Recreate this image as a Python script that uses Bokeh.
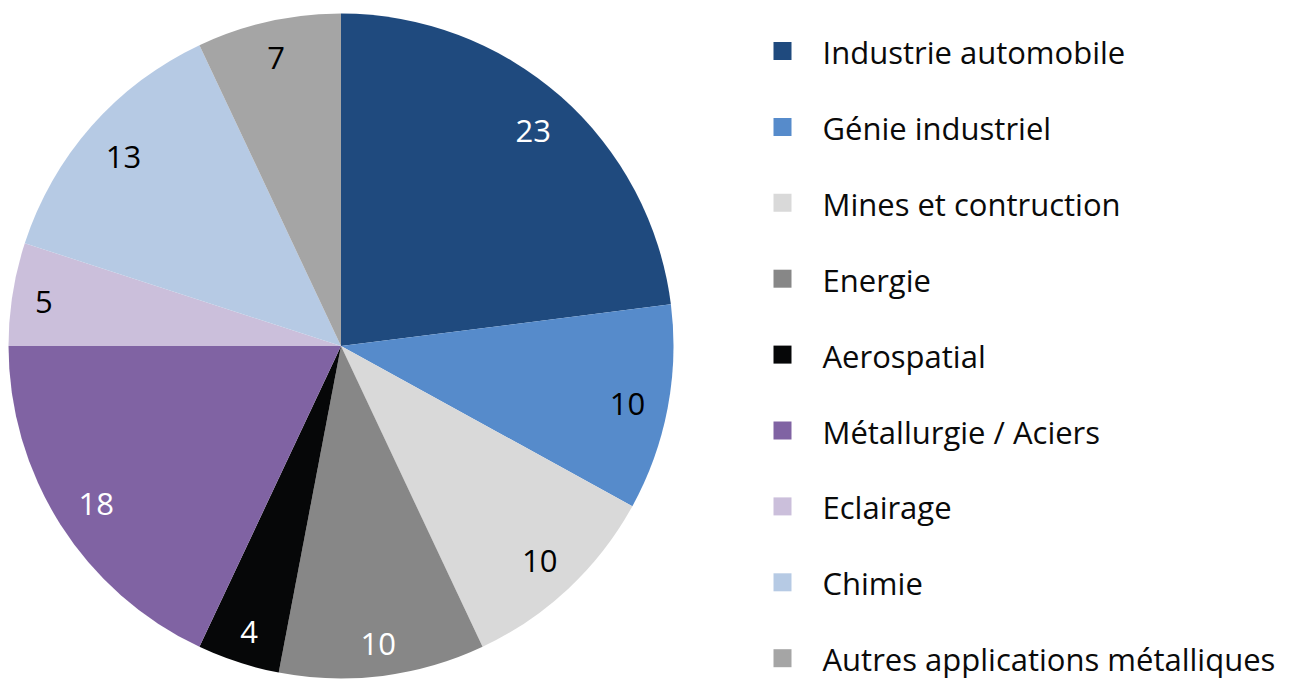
import math
from bokeh.plotting import figure
from bokeh.models import Range1d, ColumnDataSource
from bokeh.core.properties import value
from bokeh.embed import file_html
from bokeh.resources import INLINE

categories = ["Industrie automobile", "Génie industriel", "Mines et contruction",
              "Energie", "Aerospatial", "Métallurgie / Aciers", "Eclairage",
              "Chimie", "Autres applications métalliques"]
values = [23, 10, 10, 10, 4, 18, 5, 13, 7]
colors = ["#1f4a7e", "#568bcb", "#d9d9d9", "#878787", "#060708",
          "#8063a3", "#cbbfdb", "#b6cae4", "#a5a5a5"]
label_colors = ["white", "black", "black", "white", "white",
                "white", "black", "black", "black"]

W, H = 1290, 681
p = figure(width=W, height=H, output_backend="svg", toolbar_location=None,
           x_range=Range1d(0, W), y_range=Range1d(0, H), min_border=0)
p.axis.visible = False
p.grid.visible = False
p.outline_line_color = None
p.background_fill_color = "white"
p.border_fill_color = "white"

# centre/radius in the figure's pixel frame
cx, cy, R = 340.5, H - 345.5, 332.5
total = sum(values)
starts, ends, lx, ly, txt = [], [], [], [], []
cum = 0.0
pad, half_h, digit_w, drop = 21, 12, 9, 3
for v in values:
    a0 = math.pi / 2 - 2 * math.pi * (cum + v) / total
    a1 = math.pi / 2 - 2 * math.pi * cum / total
    starts.append(a0)
    ends.append(a1)
    mid = (a0 + a1) / 2
    s = str(v)
    txt.append(s)
    half_w = digit_w * len(s)
    # "inside end" placement: label box kept a fixed padding inside the rim
    support = half_w * abs(math.cos(mid)) + half_h * abs(math.sin(mid))
    d = R - pad - support
    lx.append(cx + d * math.cos(mid))
    ly.append(cy + d * math.sin(mid) - drop)
    cum += v

src = ColumnDataSource(dict(start=starts, end=ends, color=colors,
                            lx=lx, ly=ly, txt=txt, tc=label_colors))
p.wedge(x=cx, y=cy, radius=R, start_angle="start", end_angle="end",
        fill_color="color", line_color=None, source=src)
p.text(x="lx", y="ly", text="txt", text_color="tc", source=src,
       text_font=value("Open Sans"), text_font_size="31px",
       text_align="center", text_baseline="middle")

# legend
leg_x, leg_y0, gap = 782, H - 50.5, 75.9
ys = [leg_y0 - i * gap for i in range(len(categories))]
lsrc = ColumnDataSource(dict(x=[leg_x] * len(categories), y=ys,
                             ty=[y - 1 for y in ys], color=colors,
                             tx=[leg_x + 40] * len(categories), name=categories))
p.rect(x="x", y="y", width=18, height=18, fill_color="color", line_color=None, source=lsrc)
p.text(x="tx", y="ty", text="name", source=lsrc, text_color="#0a0a0a",
       text_font=value("Open Sans"), text_font_size="31px",
       text_align="left", text_baseline="middle")

open("out.html", "w").write(file_html(p, INLINE))
